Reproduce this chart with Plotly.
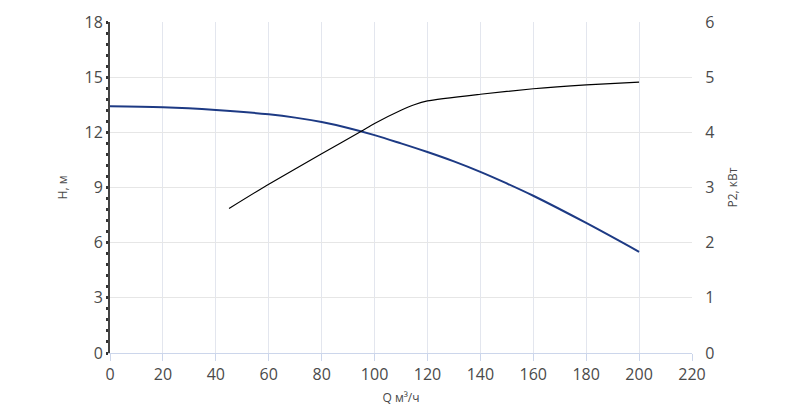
"""
Pump curve: head H and power P2 against flow Q.
"""

import plotly.graph_objects as go

# flow, m3/h
q_head = [0, 20, 40, 60, 70, 80, 90, 100, 110, 120, 130, 140, 150, 160, 180, 200]
# head, m
head = [13.42, 13.37, 13.22, 12.98, 12.8, 12.56, 12.24, 11.85, 11.4, 10.93,
        10.42, 9.85, 9.22, 8.55, 7.07, 5.5]

q_power = [45, 60, 80, 95, 100, 110, 115, 120, 140, 160, 180, 200]
# power P2, kW
power = [2.62, 3.06, 3.61, 4.02, 4.16, 4.4, 4.5, 4.57, 4.69, 4.79, 4.86, 4.91]

x_ticks = list(range(0, 221, 20))
h_ticks = list(range(0, 19, 3))
p_ticks = list(range(0, 7))

font = "Open Sans, sans-serif"
grid = "#e6e6e6"
text_col = "#4a4a4a"

fig = go.Figure()

fig.add_trace(go.Scatter(
    x=q_head, y=head, mode="lines", name="H",
    line=dict(color="#1d3a84", width=2, shape="spline", smoothing=1.0),
    yaxis="y"
))
fig.add_trace(go.Scatter(
    x=q_power, y=power, mode="lines", name="P2",
    line=dict(color="#000000", width=1.2, shape="spline", smoothing=0.6),
    yaxis="y2"
))

# the page body adds 8px, so the margins are shifted by that
fig.update_layout(
    width=800, height=408,
    margin=dict(l=102, r=116, t=14, b=63),
    paper_bgcolor="white", plot_bgcolor="white",
    showlegend=False,
    font=dict(family=font, color=text_col),
    xaxis=dict(
        range=[0, 220], tickvals=x_ticks, showgrid=True, gridcolor="#e3e6ee",
        zeroline=False, showline=True, linecolor="#ccd6eb", linewidth=1,
        ticks="outside", ticklen=7, tickcolor="#ccd6eb",
        tickfont=dict(size=16, color=text_col),
        title=dict(text="Q м³/ч", font=dict(size=12, color=text_col), standoff=9),
        automargin=False,
    ),
    yaxis=dict(
        range=[0, 18], tickvals=h_ticks, showgrid=True, gridcolor=grid,
        zeroline=False, showline=True, linecolor="#444444", linewidth=2,
        ticks="outside", ticklen=2, tickwidth=3, tickcolor="#333333",
        minor=dict(dtick=0.6, tick0=0, ticks="outside", ticklen=2,
                   tickwidth=3, tickcolor="#333333", showgrid=False),
        tickfont=dict(size=16, color=text_col),
        title=dict(text="H, м", font=dict(size=12, color=text_col), standoff=14),
        automargin=False,
    ),
    yaxis2=dict(
        range=[0, 6], tickvals=p_ticks, overlaying="y", side="right",
        showgrid=False, zeroline=False, showline=False,
        ticks="outside", ticklen=9, tickcolor="rgba(0,0,0,0)",
        tickfont=dict(size=16, color=text_col),
        title=dict(text="P2, кВт", font=dict(size=12, color=text_col), standoff=15),
        automargin=False,
    ),
)

fig.write_html("out.html")
